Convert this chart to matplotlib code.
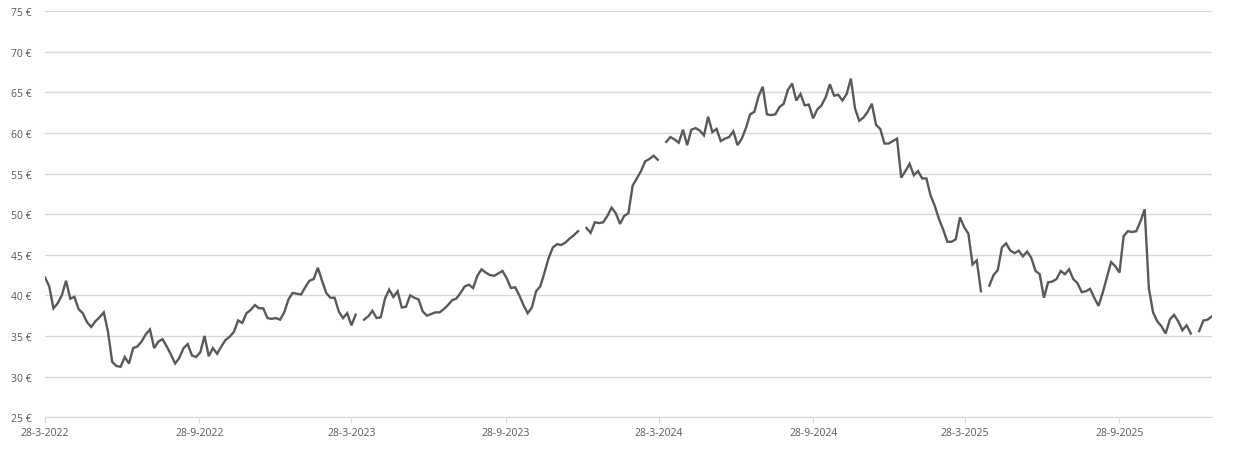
import numpy as np
import pandas as pd
import matplotlib
matplotlib.use("Agg")
import matplotlib.pyplot as plt

# share price in euro, sampled every 5 days from 28-3-2022 (NaN = missing quotes)
start_date = "2022-03-28"
step_days = 5
price = [
    42.2, 41.1, 38.4, 39.0, 40.0, 41.8, 39.6, 39.8, 38.3, 37.8,
    36.7, 36.1, 36.8, 37.3, 37.9, 35.5, 31.8, 31.3, 31.2, 32.4,
    31.6, 33.5, 33.7, 34.3, 35.2, 35.8, 33.5, 34.3, 34.6, 33.7,
    32.7, 31.6, 32.3, 33.5, 34.0, 32.6, 32.4, 33.0, 35.0, 32.5,
    33.5, 32.8, 33.7, 34.5, 34.9, 35.5, 36.9, 36.6, 37.8, 38.2,
    38.8, 38.4, 38.4, 37.2, 37.1, 37.2, 37.0, 37.9, 39.5, 40.3,
    40.2, 40.1, 41.0, 41.8, 42.0, 43.4, 41.8, 40.3, 39.7, 39.7,
    38.0, 37.2, 37.8, 36.3, 37.6, np.nan, 37.0, 37.4, 38.1, 37.2,
    37.3, 39.6, 40.7, 39.8, 40.5, 38.5, 38.6, 40.0, 39.7, 39.5,
    38.0, 37.5, 37.7, 37.9, 37.9, 38.3, 38.8, 39.4, 39.6, 40.3,
    41.1, 41.3, 40.9, 42.4, 43.2, 42.8, 42.5, 42.4, 42.7, 43.0,
    42.1, 40.9, 41.0, 40.0, 38.8, 37.8, 38.5, 40.5, 41.1, 42.8,
    44.6, 45.9, 46.3, 46.2, 46.5, 47.0, 47.4, 47.9, np.nan, 48.3,
    47.7, 49.0, 48.9, 49.0, 49.8, 50.8, 50.1, 48.8, 49.8, 50.1,
    53.5, 54.4, 55.3, 56.5, 56.8, 57.2, 56.7, np.nan, 58.9, 59.5,
    59.2, 58.8, 60.4, 58.5, 60.4, 60.6, 60.3, 59.7, 62.0, 60.1,
    60.5, 59.0, 59.3, 59.5, 60.2, 58.5, 59.3, 60.6, 62.3, 62.6,
    64.5, 65.7, 62.3, 62.2, 62.3, 63.2, 63.6, 65.3, 66.1, 64.0,
    64.8, 63.4, 63.5, 61.8, 62.9, 63.4, 64.4, 66.0, 64.6, 64.7,
    64.0, 64.8, 66.7, 63.0, 61.5, 61.9, 62.6, 63.6, 61.0, 60.5,
    58.7, 58.7, 59.0, 59.3, 54.5, 55.3, 56.2, 54.8, 55.3, 54.4,
    54.4, 52.3, 51.0, 49.4, 48.1, 46.6, 46.6, 46.9, 49.6, 48.4,
    47.6, 43.8, 44.3, 40.5, np.nan, 41.2, 42.5, 43.1, 45.9, 46.4,
    45.5, 45.2, 45.5, 44.8, 45.4, 44.6, 43.0, 42.6, 39.7, 41.6,
    41.7, 42.0, 43.0, 42.6, 43.2, 42.0, 41.5, 40.4, 40.5, 40.8,
    39.7, 38.7, 40.3, 42.2, 44.1, 43.6, 42.8, 47.3, 47.9, 47.8,
    47.9, 49.1, 50.6, 40.9, 37.9, 36.8, 36.2, 35.3, 37.0, 37.6,
    36.8, 35.7, 36.3, 35.3, np.nan, 35.6, 36.9, 37.0, 37.4,
]

tick_dates = ["2022-03-28", "2022-09-28", "2023-03-28", "2023-09-28",
              "2024-03-28", "2024-09-28", "2025-03-28", "2025-09-28"]
tick_labels = ["28-3-2022", "28-9-2022", "28-3-2023", "28-9-2023",
               "28-3-2024", "28-9-2024", "28-3-2025", "28-9-2025"]
y_ticks = [25, 30, 35, 40, 45, 50, 55, 60, 65, 70, 75]

dates = pd.date_range(start_date, periods=len(price), freq=f"{step_days}D")

plt.rcParams["font.family"] = ["Open Sans", "DejaVu Sans"]

fig = plt.figure(figsize=(12.34, 4.52), dpi=100)
ax = fig.add_axes([0.0365, 0.075, 0.9455, 0.898])

ax.plot(dates, price, color="#595959", linewidth=1.7, solid_joinstyle="miter")

ax.set_ylim(25, 75)
ax.set_xlim(dates[0], dates[-1])
ax.set_yticks(y_ticks)
ax.set_yticklabels([f"{v} €" for v in y_ticks])
ax.set_xticks(pd.to_datetime(tick_dates))
ax.set_xticklabels(tick_labels)

ax.grid(axis="y", color="#d9d9d9", linewidth=1)
ax.set_axisbelow(True)
for side in ["top", "right", "left"]:
    ax.spines[side].set_visible(False)
ax.spines["bottom"].set_color("#d9d9d9")
ax.tick_params(axis="y", length=0, pad=10, labelsize=7.5, labelcolor="#595959")
ax.tick_params(axis="x", length=4, color="#d9d9d9", pad=3, labelsize=7.5,
               labelcolor="#595959")

fig.savefig("out.png", dpi=100)
